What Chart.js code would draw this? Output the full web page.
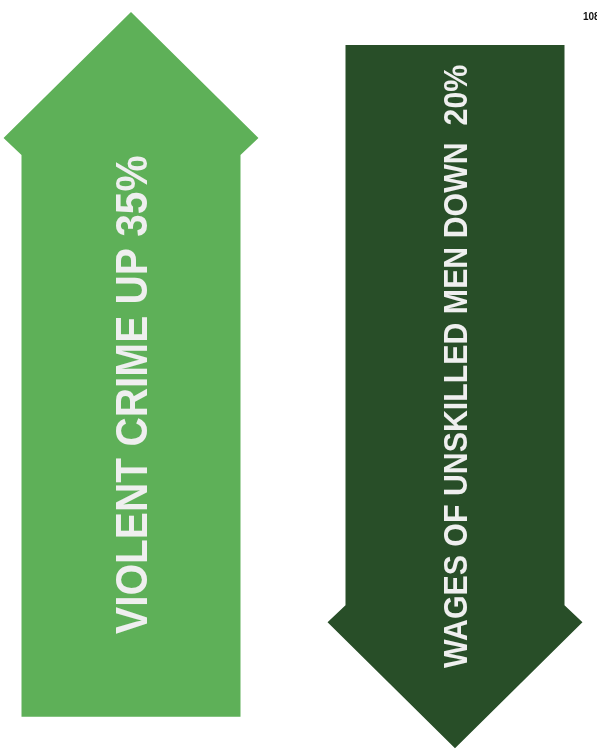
<!DOCTYPE html>
<html>
<head>
<meta charset="utf-8">
<script src="https://cdn.jsdelivr.net/npm/chart.js@4/dist/chart.umd.min.js"></script>
<style>
  html, body { margin: 0; padding: 0; background: #ffffff; }
  #wrap { width: 597px; height: 749px; }
</style>
</head>
<body>
<div id="wrap"><canvas id="c" width="597" height="749"></canvas></div>
<script>
// ---- data ----
const categories = ["VIOLENT CRIME", "WAGES OF UNSKILLED MEN"];
const changePct = [35, -20];                 // + = up arrow, - = down arrow
const arrowLabels = ["VIOLENT CRIME UP 35%", "WAGES OF UNSKILLED MEN DOWN  20%"];
const arrowStart = [4.3, 94.0];              // tail position on hidden 0-100 scale
const arrowEnd = [98.4, 0.1];                // tip position on hidden 0-100 scale
const pageNumber = "108";

const colors = ["#5eb058", "#284e28"];

const arrowPlugin = {
  id: 'arrowPlugin',
  afterDatasetsDraw(chart, args, opts) {
    const ctx = chart.ctx;
    const meta = chart.getDatasetMeta(0);
    meta.data.forEach((el, i) => {
      const up = changePct[i] > 0;
      const top = Math.min(el.y, el.base);
      const bot = Math.max(el.y, el.base);
      const cx = el.x;
      const hs = el.width / 2;
      const hh = hs * opts.headRatio;
      const L = opts.headLength;
      const J = opts.joinOffset;
      ctx.save();
      ctx.fillStyle = colors[i];
      ctx.beginPath();
      if (up) {
        ctx.moveTo(cx, top);
        ctx.lineTo(cx + hh, top + L);
        ctx.lineTo(cx + hs, top + L + J);
        ctx.lineTo(cx + hs, bot);
        ctx.lineTo(cx - hs, bot);
        ctx.lineTo(cx - hs, top + L + J);
        ctx.lineTo(cx - hh, top + L);
      } else {
        ctx.moveTo(cx, bot);
        ctx.lineTo(cx + hh, bot - L);
        ctx.lineTo(cx + hs, bot - L - J);
        ctx.lineTo(cx + hs, top);
        ctx.lineTo(cx - hs, top);
        ctx.lineTo(cx - hs, bot - L - J);
        ctx.lineTo(cx - hh, bot - L);
      }
      ctx.closePath();
      ctx.fill();

      // label
      const len = bot - top;
      const cy = up ? top + len * opts.textPos : bot - len * opts.textPos;
      const fs = opts.fontSizes[i];
      ctx.translate(cx, cy);
      ctx.rotate(-Math.PI / 2);
      ctx.scale(opts.textScaleX[i], 1);
      ctx.font = 'bold ' + fs + 'px "Liberation Sans", Arial, sans-serif';
      ctx.fillStyle = '#efefef';
      ctx.textAlign = 'center';
      ctx.textBaseline = 'alphabetic';
      ctx.fillText(arrowLabels[i], 0, fs * 0.716 / 2);
      ctx.restore();
    });
    // page number
    ctx.save();
    ctx.font = 'bold 10px "Liberation Sans Narrow", "Liberation Sans", Arial, sans-serif';
    ctx.fillStyle = '#111111';
    ctx.textAlign = 'left';
    ctx.textBaseline = 'alphabetic';
    ctx.fillText(pageNumber, 583, 20);
    ctx.restore();
  }
};

new Chart(document.getElementById('c'), {
  type: 'bar',
  data: {
    labels: categories,
    datasets: [{
      label: 'change',
      data: arrowStart.map((s, i) => [s, arrowEnd[i]]),
      backgroundColor: 'rgba(0,0,0,0)',
      borderWidth: 0,
      barThickness: 219,
      clip: false
    }]
  },
  options: {
    responsive: false,
    animation: false,
    devicePixelRatio: 1,
    layout: { padding: { left: 131, right: 142, top: 0, bottom: 0 } },
    scales: {
      x: { display: false, offset: false },
      y: { display: false, min: 0, max: 100 }
    },
    plugins: {
      legend: { display: false },
      tooltip: { enabled: false },
      arrowPlugin: {
        headRatio: 1.164,
        headLength: 126,
        joinOffset: 17,
        textPos: 0.543,
        fontSizes: [44, 34],
        textScaleX: [0.923, 0.892]
      }
    }
  },
  plugins: [arrowPlugin]
});
</script>
</body>
</html>
